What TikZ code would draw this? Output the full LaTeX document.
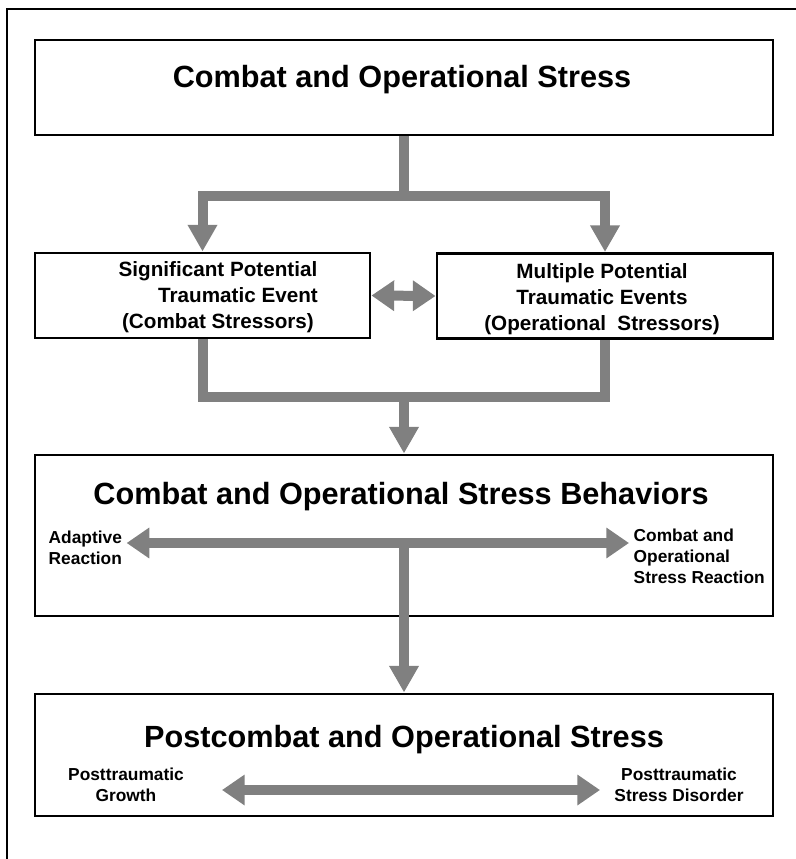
\documentclass[tikz,border=0pt]{standalone}
\usepackage{fontspec}
\setmainfont{Liberation Sans}
\usetikzlibrary{arrows.meta}
\definecolor{pipegray}{RGB}{128,128,128}

\begin{document}
\begin{tikzpicture}[x=0.75pt,y=0.75pt,yscale=-1,xscale=1,
  box/.style={draw, line width=2.2pt, inner sep=0pt},
  title/.style={font=\fontsize{23}{27}\selectfont\bfseries},
  eventtext/.style={font=\fontsize{15.5}{19.5}\selectfont\bfseries, align=center},
  sidetext/.style={font=\fontsize{13}{15.75}\selectfont\bfseries},
  pipe/.style={draw=pipegray, line width=7.5pt, line join=miter},
  tip/.style={-{Triangle[length=20pt,width=21pt]}},
  tips/.style={{Triangle[length=17pt,width=22pt]}-{Triangle[length=17pt,width=22pt]}}
]
\useasboundingbox (0,0) rectangle (795,859);

%Outer frame
\draw [line width=2.2pt] (7,870) -- (7,9) -- (800,9) ;

%Shape: Rectangle, top
\node [box, minimum width=553.5pt, minimum height=71.25pt] (cos) at (404,87.5) {};
\node [title] (costitle) at (402,80) {Combat and Operational Stress};

%Shape: Rectangle, event boxes
\node [box, minimum width=251.25pt, minimum height=63.75pt] (spte) at (202.5,295.5) {};
\node [eventtext] (sptetext) at (218,297) {Significant Potential\\\hspace*{30pt}Traumatic Event\\(Combat Stressors)};
\node [box, minimum width=252pt, minimum height=63.75pt] (mpte) at (605,296) {};
\node [eventtext] (mptetext) at (602,299) {Multiple Potential\\Traumatic Events\\(Operational \ Stressors)};

%Shape: Rectangle, behaviors
\node [box, minimum width=553.5pt, minimum height=120.75pt] (cosb) at (404,535.5) {};
\node [title] (cosbtitle) at (401,497) {Combat and Operational Stress Behaviors};
\node [sidetext, align=left, anchor=west] (ar) at (44,548) {Adaptive\\Reaction};
\node [sidetext, align=left, anchor=west] (csr) at (629,556) {Combat and\\Operational\\Stress Reaction};

%Shape: Rectangle, postcombat
\node [box, minimum width=553.5pt, minimum height=91.5pt] (pcos) at (404,755) {};
\node [title] (pcostitle) at (404,740) {Postcombat and Operational Stress};
\node [sidetext, align=center] (ptg) at (126,785) {Posttraumatic\\Growth};
\node [sidetext, align=center] (ptsd) at (679,785) {Posttraumatic\\Stress Disorder};

%Connectors
\draw [pipe] (cos.south) -- ++(0,60) coordinate (fork) ;
\draw [pipe, tip] (fork) -| (spte.north) ;
\draw [pipe, tip] (fork) -| (mpte.north) ;
\draw [pipe, tips] (spte.east) -- (mpte.west) ;

\coordinate (merge) at (404,397) ;
\draw [pipe] (spte.south) |- (merge) -| (mpte.south) ;
\draw [pipe, tip] (merge) -- (cosb.north) ;

\coordinate (fan) at (404,543) ;
\draw [pipe, tips] (ar.east |- fan) -- (csr.west |- fan) ;
\draw [pipe, tip] (fan) -- (pcos.north) ;

\coordinate (ptgend) at (222,790) ;
\coordinate (ptsdend) at (600,790) ;
\draw [pipe, tips] (ptgend) -- (ptsdend) ;

\end{tikzpicture}
\end{document}
